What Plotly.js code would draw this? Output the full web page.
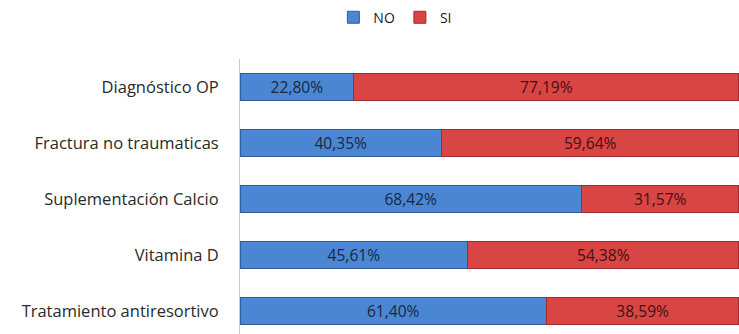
<!DOCTYPE html>
<html>
<head>
<meta charset="utf-8">
<script src="https://cdn.plot.ly/plotly-3.0.1.min.js"></script>
<style>html,body{margin:0;padding:0;background:#fff;}#chart{width:739px;height:334px;}</style>
</head>
<body>
<div id="chart"></div>
<script>
var categories = ["Diagnóstico OP", "Fractura no traumaticas", "Suplementación Calcio", "Vitamina D", "Tratamiento antiresortivo"];
var noValues = [22.80, 40.35, 68.42, 45.61, 61.40];
var siValues = [77.19, 59.64, 31.57, 54.38, 38.59];
var seriesNames = ["NO", "SI"];

var idx = categories.map(function(_, i){ return i; });
var fontFam = "'Open Sans', 'Noto Sans', sans-serif";

var traces = [
  {
    type: "bar", orientation: "h", name: seriesNames[0],
    x: noValues, y: idx, width: 0.49,
    marker: {color: "#4a86d2", line: {color: "#2f5f9e", width: 1}},
    texttemplate: "%{x:.2f}%", textposition: "inside", insidetextanchor: "middle",
    textfont: {family: fontFam, size: 16, color: "#1a2842"},
    hoverinfo: "skip"
  },
  {
    type: "bar", orientation: "h", name: seriesNames[1],
    x: siValues, y: idx, width: 0.49,
    marker: {color: "#d84545", line: {color: "#a52a2a", width: 1}},
    texttemplate: "%{x:.2f}%", textposition: "inside", insidetextanchor: "middle",
    textfont: {family: fontFam, size: 16, color: "#451010"},
    hoverinfo: "skip"
  }
];

var layout = {
  width: 739, height: 334,
  margin: {l: 240, r: 0, t: 59, b: 0},
  barmode: "stack",
  separators: ",.",
  paper_bgcolor: "#ffffff", plot_bgcolor: "#ffffff",
  font: {family: fontFam, color: "#404040"},
  showlegend: true,
  legend: {
    orientation: "h", xref: "container", x: 0.535, xanchor: "center",
    yref: "container", y: 0.995, yanchor: "top",
    font: {size: 14, color: "#1a1a1a"}, itemwidth: 30, traceorder: "normal"
  },
  xaxis: {range: [0, 100], showgrid: false, zeroline: false, showticklabels: false, showline: false, fixedrange: true},
  yaxis: {
    range: [4.41, -0.5], tickvals: idx, ticktext: categories,
    showgrid: false, zeroline: false, showline: true, linecolor: "#c8c8c8", linewidth: 1,
    ticks: "", ticklabelstandoff: 17,
    tickfont: {family: fontFam, size: 16.5, color: "#2a2a2a"}
  }
};

Plotly.newPlot("chart", traces, layout, {displayModeBar: false, staticPlot: true});
</script>
</body>
</html>
